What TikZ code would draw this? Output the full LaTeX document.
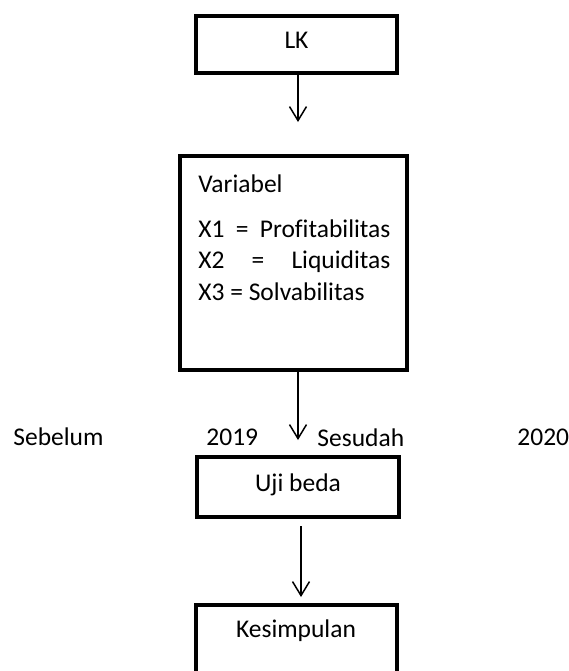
\documentclass[tikz,border=0pt]{standalone}
\usepackage{fontspec}
\setmainfont{Carlito}[Ligatures=NoCommon]
\usetikzlibrary{arrows.meta}
\newcommand{\txtfont}{\fontsize{12.75}{15}\selectfont}
\begin{document}
\begin{tikzpicture}[x=0.5pt,y=-0.5pt,
  box/.style={draw=black, line width=2pt, inner sep=0pt, font=\txtfont,
              text height=0.644em, text depth=0.17em},
  txt/.style={inner sep=0pt, font=\txtfont},
  arr/.style={line width=0.75pt, -{Straight Barb[length=7pt,width=8.5pt,line width=0.75pt]}}]
\useasboundingbox (0,0) rectangle (569,671);
\clip (0,0) rectangle (569,671);
% boxes
\node[box, minimum width=100.5pt, minimum height=28.75pt] (lk) at (296.5,44.25) {LK};
\node[box, minimum width=113.5pt, minimum height=107pt] (var) at (293.5,263) {};
\node[box, minimum width=101pt, minimum height=30pt] (uji) at (298,487) {Uji beda};
\node[box, minimum width=100.5pt, minimum height=50pt] (kes) at (296.5,655) {};
% texts in the Variabel box
\node[txt, anchor=base west] (v0) at (198,192) {Variabel};
\node[txt, anchor=base west] (v1) at (198,237) {\hbox to 96pt{X1\hfill=\hfill Profitabilitas}};
\node[txt, anchor=base west] (v2) at (198,268) {\hbox to 96pt{X2\hfill=\hfill Liquiditas}};
\node[txt, anchor=base west] (v3) at (198,300) {X3 = Solvabilitas};
% Kesimpulan text
\node[txt, anchor=base] (kest) at (296,637) {Kesimpulan};
% row of labels
\node[txt, anchor=base west] (seb) at (13,445) {Sebelum};
\node[txt, anchor=base west] (y19) at (206,445) {2019};
\node[txt, anchor=base west] (ses) at (317,446.5) {Sesudah};
\node[txt, anchor=base west] (y20) at (517,445) {2020};
% arrows
\coordinate (t1) at (298,122);
\coordinate (t2) at (298,440);
\coordinate (ax3) at (301,560);
\draw[arr] (lk.south -| t1) -- (t1);
\draw[arr] (var.south -| t2) -- (t2);
\draw[arr, shorten <=3.5pt, shorten >=3pt] (uji.south -| ax3) -- (kes.north -| ax3);
\end{tikzpicture}
\end{document}
